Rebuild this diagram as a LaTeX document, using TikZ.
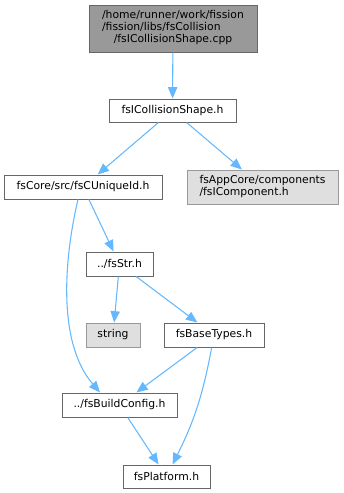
\documentclass[tikz,border=0pt]{standalone}
\usepackage{fontspec}
\newfontfamily\dejavu{DejaVu Sans}
\usetikzlibrary{arrows.meta}
\definecolor{edgeblue}{HTML}{63B8FF}
\definecolor{nodeline}{HTML}{666666}
\definecolor{extline}{HTML}{999999}
\definecolor{extfill}{HTML}{DFDFDF}
\definecolor{rootfill}{HTML}{999999}

\begin{document}
\begin{tikzpicture}[x=0.75pt, y=-0.75pt,
  file/.style={draw=nodeline, fill=white, line width=0.75pt, inner sep=0pt,
    minimum height=18pt, font=\dejavu\fontsize{8.1}{9}\selectfont},
  extfile/.style={file, draw=extline, fill=extfill},
  edge/.style={draw=edgeblue, line width=0.8pt, -{Triangle[length=8.5pt, width=7pt]}}]
  \useasboundingbox (0,0) rectangle (343,493);
  % files
  \node[file, fill=rootfill, minimum width=126pt, minimum height=35.25pt] (root) at (173,28.5)
    {\begin{tabular}{@{}l@{}}/home/runner/work/fission\\/fission/libs/fsCollision\\
     \multicolumn{1}{@{}c@{}}{/fsICollisionShape.cpp}\end{tabular}};
  \node[file, minimum width=95.25pt, minimum height=17.25pt] (ics) at (172.5,110.5) {fsICollisionShape.h};
  \node[file, minimum width=118.5pt] (uid) at (83,187) {fsCore/src/fsCUniqueId.h};
  \node[extfile, minimum width=113.25pt, minimum height=25.5pt, align=left] (comp) at (262.5,187)
    {fsAppCore/components\\/fsIComponent.h};
  \node[file, minimum width=50.25pt] (str) at (119.5,264) {../fsStr.h};
  \node[extfile, minimum width=40.5pt] (string) at (113,335) {string};
  \node[file, minimum width=75pt] (base) at (214,335) {fsBaseTypes.h};
  \node[file, minimum width=86.25pt] (build) at (119.5,405) {../fsBuildConfig.h};
  \node[file, minimum width=65.25pt, minimum height=17.25pt] (plat) at (166.5,476.5) {fsPlatform.h};
  % includes
  \draw[edge] (root) -- (ics);
  \draw[edge] (ics) -- (uid);
  \draw[edge] (ics) -- (comp);
  \draw[edge] (uid) -- (str);
  \draw[edge] ([xshift=-3.75pt]uid.south) .. controls (66,250) and (55,340) .. ([xshift=-14.6pt]build.north);
  \draw[edge] (str) -- (string);
  \draw[edge] (str) -- (base);
  \draw[edge] (base) -- (build);
  \draw[edge] (base) to[bend left=8] (plat);
  \draw[edge] (build) -- (plat);
\end{tikzpicture}
\end{document}
